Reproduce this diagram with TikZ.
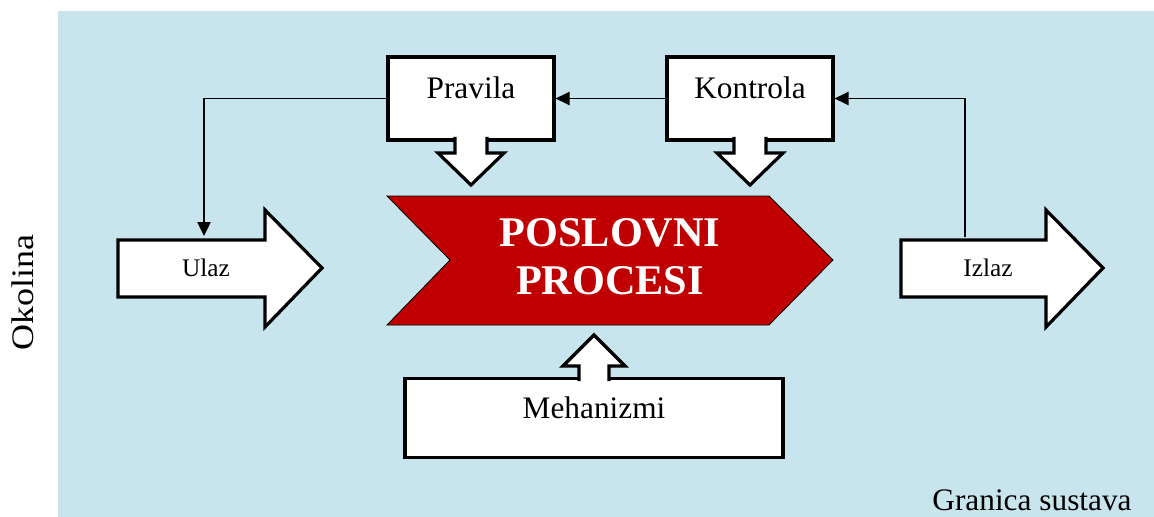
\documentclass[tikz,border=0pt]{standalone}
\usepackage{fontspec}
\setmainfont{Liberation Serif}
\usetikzlibrary{arrows.meta}

\definecolor{okvir}{RGB}{200,228,236}
\definecolor{crvena}{RGB}{192,0,0}

\tikzset{
  kutija/.style={draw, fill=white, line width=2.4pt, rectangle, inner sep=0pt,
    font=\fontsize{23.5}{28}\selectfont, text height=0.8em, text depth=0.8em},
  strelica/.style={draw, fill=white, line width=2.4pt, line join=miter},
  veza/.style={line width=1pt, -{Triangle[length=10.5pt,width=10pt]}},
  natpis/.style={inner sep=0pt, font=\fontsize{23.5}{28}\selectfont},
  mali/.style={inner sep=0pt, font=\fontsize{19}{22}\selectfont}
}

\begin{document}
\begin{tikzpicture}[x=0.75pt,y=0.75pt,yscale=-1,xscale=1]
\useasboundingbox (0,0) rectangle (1154,517);

%Shape: Rectangle [granica sustava]
\fill [okvir] (58,11) rectangle (1154,517);

%Shape: Chevron [poslovni procesi]
\draw [fill=crvena, line width=0.6pt] (387,196) -- (769,196) -- (833,260) -- (769,325) -- (387,325) -- (450,260) -- cycle;
\node [inner sep=0pt, align=center, text=white, font=\fontsize{31.7}{36}\bfseries\selectfont] (procesi) at (610,257) {POSLOVNI\\PROCESI};

%Shape: Callout [pravila]
\node [kutija, minimum width=124.5pt, minimum height=62.25pt] (pravila) at (471,98.5) {Pravila};
\draw [strelica] (455,137) -- (455,153) -- (438,153) -- (471,185) -- (504,153) -- (487,153) -- (487,137);

%Shape: Callout [kontrola]
\node [kutija, minimum width=124.5pt, minimum height=62.25pt] (kontrola) at (750,98.5) {Kontrola};
\draw [strelica] (734,137) -- (734,153) -- (717,153) -- (750,185) -- (783,153) -- (766,153) -- (766,137);

%Shape: Callout [mehanizmi]
\node [kutija, minimum width=283.5pt, minimum height=59.25pt] (mehanizmi) at (594,418) {Mehanizmi};
\draw [strelica] (579,381) -- (579,366) -- (563,366) -- (594,335) -- (625,366) -- (609,366) -- (609,381);

%Shape: Right Arrow [ulaz]
\draw [strelica] (118,240) -- (265,240) -- (265,210) -- (322,268) -- (265,327) -- (265,297) -- (118,297) -- cycle;
\node [mali] (ulaz) at (206,268) {Ulaz};
\coordinate (ulazVrh) at (204,236);

%Shape: Right Arrow [izlaz]
\draw [strelica] (901,240) -- (1046,240) -- (1046,210) -- (1103,268) -- (1046,327) -- (1046,297) -- (901,297) -- cycle;
\node [mali] (izlaz) at (988,268) {Izlaz};
\coordinate (izlazVrh) at (965,237);

%Straight Lines [povratne veze]
\draw [veza] (kontrola) -- (pravila);
\draw [veza] (pravila.west) -| (ulazVrh);
\draw [veza] (izlazVrh) |- (kontrola.east);

% Text Node
\node [natpis, rotate=90] (okolina) at (23,292.5) {\scalebox{1.15}[1]{Okolina}};
% Text Node
\node [natpis, anchor=base] (granica) at (1032,510) {Granica sustava};

\end{tikzpicture}
\end{document}
